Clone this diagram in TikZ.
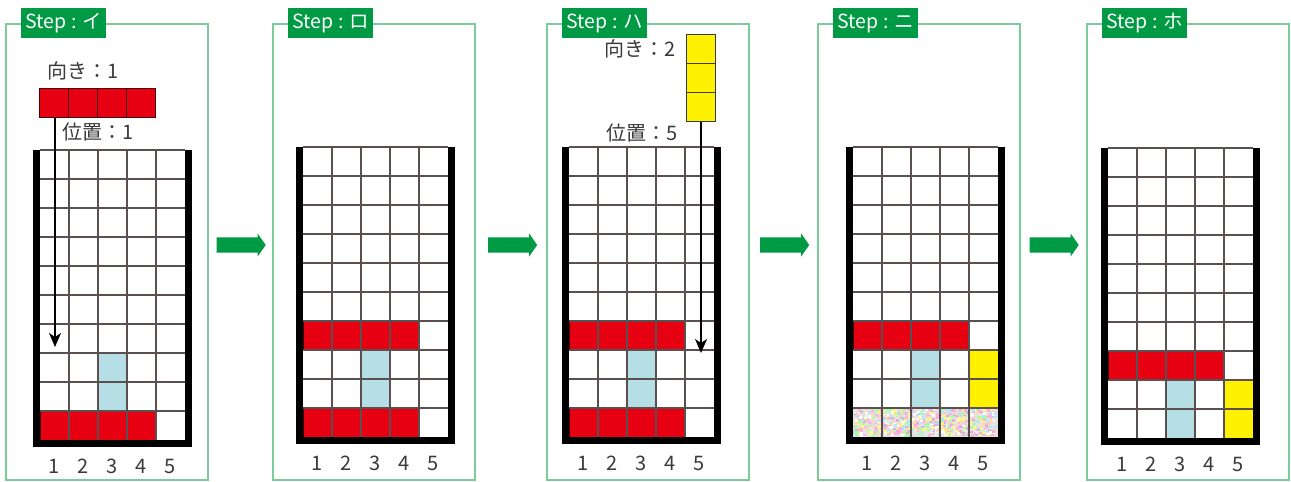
\documentclass[tikz,border=0pt]{standalone}
\usepackage{fontspec}
\newfontfamily\jpfont{Noto Sans CJK JP}
\usetikzlibrary{arrows.meta,shapes.arrows}
\definecolor{stepgreen}{HTML}{009944}
\definecolor{framegreen}{HTML}{7CCB9A}
\definecolor{tetred}{HTML}{E60012}
\definecolor{tetyellow}{HTML}{FFF100}
\definecolor{tetblue}{HTML}{B5DEE5}
\definecolor{inkgray}{HTML}{3A3A3A}
\definecolor{linegray}{HTML}{5A5050}
\tikzset{
  panel/.style={draw=framegreen, line width=2pt},
  steplbl/.style={fill=stepgreen, text=white, font=\jpfont\fontsize{19.5}{19.5}\selectfont,
                  minimum width=85pt, minimum height=30pt, inner sep=0pt, anchor=north west},
  flowarrow/.style={single arrow, fill=stepgreen, draw=none, minimum height=49pt,
                    inner xsep=0pt, inner ysep=7.5pt, single arrow head extend=4pt,
                    single arrow tip angle=110},
  gridline/.style={draw=linegray, line width=1.3pt},
  wall/.style={draw=black, line width=7pt, line join=miter},
  redcell/.style={fill=tetred, draw=black!70!tetred, line width=1pt},
  yellowcell/.style={fill=tetyellow, draw=inkgray, line width=1pt},
  bluecell/.style={fill=tetblue},
  colnum/.style={text=inkgray, font=\jpfont\fontsize{20}{20}\selectfont, inner sep=0pt},
  hint/.style={text=inkgray, font=\jpfont\fontsize{20}{20}\selectfont, inner sep=0pt},
  droparrow/.style={-{Stealth[length=14pt,width=12pt,inset=4pt]}, draw=black, line width=1.2pt}
}
\pgfmathdeclarerandomlist{pastels}{{pink!70}{green!35}{violet!30}{yellow!50}{cyan!30}{white}{magenta!30}{orange!30}}

% one cell of the board, column #1, row #2 (rows counted from the top)
\newcommand{\cellat}[3]{\path[#3] ({(#1-1)*29},{(#2-1)*29}) rectangle ++(29,29);}
% empty 5x10 board with walls and column numbers
\newcommand{\playfield}[1]{%
  \foreach \cc in {1,...,4} \draw[gridline] ({\cc*29},0) -- ({\cc*29},290);
  \foreach \rr in {0,...,9} \draw[gridline] (0,{\rr*29}) -- (145,{\rr*29});
  \draw[wall] (-3.5,0) -- (-3.5,293.5) -- (148.5,293.5) -- (148.5,0);
  \foreach \cc in {1,...,5} \node[colnum] (#1-n\cc) at ({\cc*29-14.5},316) {\cc};
}

\begin{document}
\begin{tikzpicture}[x=1pt, y=-1pt]
  \useasboundingbox[fill=white] (0,0) rectangle (1291,482);

  % frames and step labels
  \draw[panel] (6,24) rectangle ++(202,456);
  \node[steplbl] (step1) at (21,8) {Step : イ};
  \draw[panel] (273,24) rectangle ++(202,456);
  \node[steplbl] (step2) at (288,8) {Step : ロ};
  \draw[panel] (547,24) rectangle ++(202,456);
  \node[steplbl] (step3) at (562,8) {Step : ハ};
  \draw[panel] (818,24) rectangle ++(202,456);
  \node[steplbl] (step4) at (833,8) {Step : ニ};
  \draw[panel] (1087,24) rectangle ++(202,456);
  \node[steplbl] (step5) at (1102,8) {Step : ホ};

  % arrows between the steps
  \node[flowarrow] (flow1) at (238.5,245) {};
  \node[flowarrow] (flow2) at (510,245) {};
  \node[flowarrow] (flow3) at (782,245) {};
  \node[flowarrow] (flow4) at (1051.5,245) {};

  % Step 1
  \begin{scope}[shift={(40,150)}]
    \cellat{3}{8}{bluecell} \cellat{3}{9}{bluecell}
    \foreach \cc in {1,...,4} {\cellat{\cc}{10}{redcell}}
    \playfield{pa}
  \end{scope}
  \foreach \nn in {0,...,3} {\path[redcell] ({39+\nn*29},88) rectangle ++(29,29);}
  \node[hint] (dir1) at (83,71) {向き：1};
  \node[hint] (pos1) at (98,132) {位置：1};
  \coordinate (drop1) at (55,117);
  \coordinate (land1) at (55,347);
  \draw[droparrow] (drop1) -- (land1);

  % Step 2
  \begin{scope}[shift={(303,147)}]
    \cellat{3}{8}{bluecell} \cellat{3}{9}{bluecell}
    \foreach \cc in {1,...,4} {\cellat{\cc}{7}{redcell} \cellat{\cc}{10}{redcell}}
    \playfield{pb}
  \end{scope}

  % Step 3
  \begin{scope}[shift={(569,147)}]
    \cellat{3}{8}{bluecell} \cellat{3}{9}{bluecell}
    \foreach \cc in {1,...,4} {\cellat{\cc}{7}{redcell} \cellat{\cc}{10}{redcell}}
    \playfield{pc}
  \end{scope}
  \foreach \nn in {0,1,2} {\path[yellowcell] (686,{34+\nn*29.3}) rectangle ++(29,29.3);}
  \node[hint] (dir3) at (640,49) {向き：2};
  \node[hint] (pos3) at (642,133) {位置：5};
  \coordinate (drop3) at (701,122);
  \coordinate (land3) at (701,353);
  \draw[droparrow] (drop3) -- (land3);

  % Step 4
  \begin{scope}[shift={(853,147)}]
    \cellat{3}{8}{bluecell} \cellat{3}{9}{bluecell}
    \cellat{5}{8}{yellowcell} \cellat{5}{9}{yellowcell}
    \foreach \cc in {1,...,4} {\cellat{\cc}{7}{redcell}}
    \fill[black!10] (0,261) rectangle (145,290);
    \pgfmathsetseed{11}
    \foreach \nn in {1,...,800}{
      \pgfmathsetmacro\dotx{rnd*142}
      \pgfmathsetmacro\doty{261+rnd*26.5}
      \pgfmathrandomitem\dotc{pastels}
      \fill[fill=\dotc] (\dotx,\doty) rectangle ++(3,2.5);
    }
    \playfield{pd}
  \end{scope}

  % Step 5
  \begin{scope}[shift={(1108,148)}]
    \cellat{3}{9}{bluecell} \cellat{3}{10}{bluecell}
    \cellat{5}{9}{yellowcell} \cellat{5}{10}{yellowcell}
    \foreach \cc in {1,...,4} {\cellat{\cc}{8}{redcell}}
    \playfield{pe}
  \end{scope}
\end{tikzpicture}
\end{document}
